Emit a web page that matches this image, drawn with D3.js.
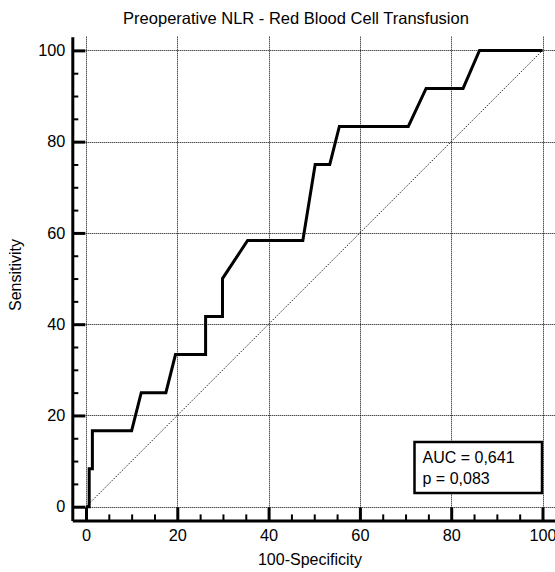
<!DOCTYPE html>
<html>
<head>
<meta charset="utf-8">
<title>ROC curve</title>
<script src="https://d3js.org/d3.v7.min.js"></script>
<style>
  body { margin: 0; background: #fff; }
  text { font-family: "Liberation Sans", Arial, sans-serif; fill: #000; }
</style>
</head>
<body>
<svg id="grafico" width="555" height="572"></svg>
<script>
// 100-Specificity (x) and Sensitivity (y) of the ROC curve
let fpr = [0, 0.7, 0.7, 1.4, 1.4, 10.0, 12.1, 17.5, 19.6, 26.2, 26.2, 29.9, 29.9, 35.4, 47.5, 50.2, 53.4, 55.5, 70.6, 74.5, 82.6, 86.2, 100];
let tpr = [0, 0, 8.33, 8.33, 16.67, 16.67, 25, 25, 33.33, 33.33, 41.67, 41.67, 50, 58.33, 58.33, 75, 75, 83.33, 83.33, 91.67, 91.67, 100, 100];
let majorTicks = [0, 20, 40, 60, 80, 100];
let titleText = "Preoperative NLR - Red Blood Cell Transfusion";
let xLabel = "100-Specificity";
let yLabel = "Sensitivity";
let statLines = ["AUC = 0,641", "p = 0,083"];

let svg = d3.select("#grafico");

// domain a bit wider than 0..100 so axes sit off the data
let x = d3.scaleLinear().domain([-3, 103]).range([72.3, 556.2]);
let y = d3.scaleLinear().domain([-3, 103]).range([520.4, 36.7]);
let minorTicks = d3.range(0, 101, 5).filter(d => d % 20 != 0);

// grid
let grid = svg.append("g").attr("stroke", "#000").attr("stroke-width", 1).attr("stroke-dasharray", "1,1");
grid.selectAll(".vg").data(majorTicks).enter().append("line")
  .attr("x1", d => Math.round(x(d)) + 0.5).attr("x2", d => Math.round(x(d)) + 0.5)
  .attr("y1", y(103)).attr("y2", y(-3));
grid.selectAll(".hg").data(majorTicks).enter().append("line")
  .attr("y1", d => Math.round(y(d)) + 0.5).attr("y2", d => Math.round(y(d)) + 0.5)
  .attr("x1", x(-3)).attr("x2", 555);

// reference diagonal
svg.append("line")
  .attr("x1", x(0)).attr("y1", y(0)).attr("x2", x(100)).attr("y2", y(100))
  .attr("stroke", "#222").attr("stroke-width", 1).attr("stroke-dasharray", "1.5,1.5");

// ROC curve
let line = d3.line().x(d => x(d[0])).y(d => y(d[1]));
svg.append("path")
  .datum(d3.zip(fpr, tpr))
  .attr("d", line)
  .attr("fill", "none")
  .attr("stroke", "#000")
  .attr("stroke-width", 3)
  .attr("stroke-linejoin", "miter");

// axes
let xAxis = svg.append("g").attr("transform", "translate(0," + y(-3) + ")")
  .call(d3.axisBottom(x).tickValues(majorTicks).tickSize(-13).tickSizeOuter(0).tickPadding(9));
let xMinor = svg.append("g").attr("transform", "translate(0," + y(-3) + ")")
  .call(d3.axisBottom(x).tickValues(minorTicks).tickSize(-6).tickSizeOuter(0).tickFormat(""));
let yAxis = svg.append("g").attr("transform", "translate(" + x(-3) + ",0)")
  .call(d3.axisLeft(y).tickValues(majorTicks).tickSize(-13).tickSizeOuter(0).tickPadding(7));
let yMinor = svg.append("g").attr("transform", "translate(" + x(-3) + ",0)")
  .call(d3.axisLeft(y).tickValues(minorTicks).tickSize(-6).tickSizeOuter(0).tickFormat(""));

[xAxis, yAxis].forEach(function(g){
  g.select(".domain").attr("stroke-width", 3);
  g.selectAll(".tick line").attr("stroke-width", 3);
  g.selectAll(".tick text").attr("font-size", 16.3).attr("font-family", "Liberation Sans, Arial, sans-serif");
});
[xMinor, yMinor].forEach(function(g){
  g.select(".domain").remove();
  g.selectAll(".tick line").attr("stroke-width", 2);
});

// titles
svg.append("text").attr("x", 296).attr("y", 24).attr("text-anchor", "middle")
  .attr("font-size", 16.5).text(titleText);
svg.append("text").attr("x", 310).attr("y", 565).attr("text-anchor", "middle")
  .attr("font-size", 16).text(xLabel);
svg.append("text").attr("transform", "translate(21,275) rotate(-90)").attr("text-anchor", "middle")
  .attr("font-size", 16).text(yLabel);

// AUC box
let box = svg.append("g");
box.append("rect").attr("x", 414.5).attr("y", 442).attr("width", 127.5).attr("height", 51)
  .attr("fill", "#fff").attr("stroke", "#000").attr("stroke-width", 2.5);
box.selectAll(".st").data(statLines).enter().append("text")
  .attr("x", 422.5).attr("y", (d, i) => 463 + i * 20.5)
  .attr("font-size", 16).text(d => d);
</script>
</body>
</html>
